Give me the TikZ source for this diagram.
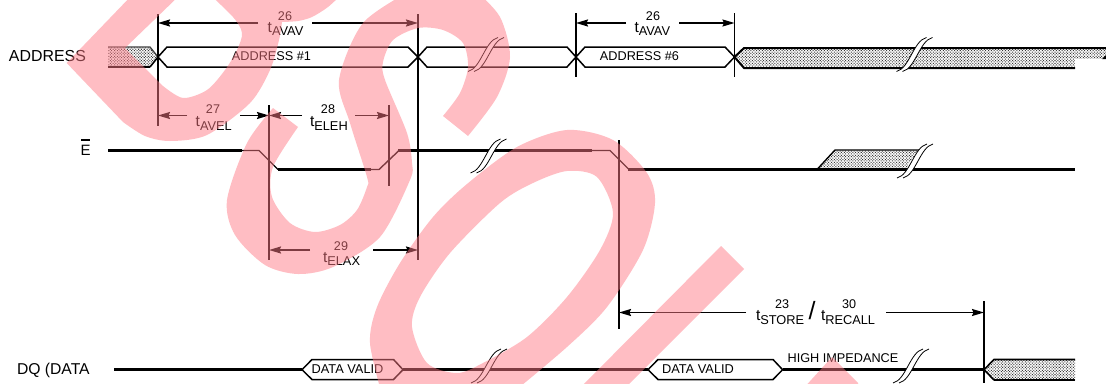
\documentclass[tikz,border=0pt]{standalone}
\usepackage{fontspec}
\setmainfont{Liberation Sans}
\usetikzlibrary{arrows.meta,patterns.meta}
\definecolor{wmpink}{RGB}{255,122,133}
\newcommand{\fsz}[1]{\fontsize{#1}{#1}\selectfont}
\newcommand{\brk}[3]{% name, center x, center y
  \coordinate (#1) at (#2,#3);
  \fill[white] ([shift={(-18,17)}]#1) .. controls ([shift={(-5,14)}]#1) and ([shift={(-1,-14)}]#1) .. ([shift={(12,-17)}]#1)
     -- ([shift={(18,-17)}]#1) .. controls ([shift={(5,-14)}]#1) and ([shift={(1,14)}]#1) .. ([shift={(-12,17)}]#1) -- cycle;
  \draw[breakln] ([shift={(-18,17)}]#1) .. controls ([shift={(-5,14)}]#1) and ([shift={(-1,-14)}]#1) .. ([shift={(12,-17)}]#1);
  \draw[breakln] ([shift={(-12,17)}]#1) .. controls ([shift={(1,14)}]#1) and ([shift={(5,-14)}]#1) .. ([shift={(18,-17)}]#1);
}
\newcommand{\tsub}[1]{\fsz{15.5}t\raisebox{-3.6pt}{\fsz{12.8}#1}}
\tikzset{
  lab/.style={inner sep=0pt,outer sep=0pt,text=black},
  num/.style={lab,font=\fsz{12.6}},
  bus/.style={draw=black,line width=1.5pt,line join=miter},
  thickln/.style={line width=3pt},
  thinln/.style={line width=1.4pt},
  marker/.style={line width=1.5pt},
  dim/.style={line width=1.5pt,-{Stealth[length=12pt,width=7pt,inset=1.5pt]}},
  breakln/.style={line width=.8pt},
  stipple/.style={pattern={Dots[distance=2pt,radius=.72pt,angle=45]},pattern color=black!78},
  wm/.style={fill=wmpink,fill opacity=.49,even odd rule},
}
\begin{document}
\begin{tikzpicture}[x=1pt,y=-1pt]
\useasboundingbox (0,0) rectangle (1106,383);
\fill[white] (0,0) rectangle (1106,383);
% markers
\coordinate (m1t) at (158,14);   \coordinate (m1b) at (158,126);
\coordinate (m2t) at (418,14);   \coordinate (m2b) at (418,260);
\coordinate (m3t) at (576,13);   \coordinate (m3b) at (576,77);
\coordinate (m4t) at (734.5,13); \coordinate (m4b) at (734.5,77);
\coordinate (m5t) at (269,105);  \coordinate (m5b) at (269,260);
\coordinate (m6t) at (389,105);  \coordinate (m6b) at (389,186);
\coordinate (m7t) at (619,140);  \coordinate (m7b) at (619,329);
\coordinate (m8t) at (984,301);  \coordinate (m8b) at (984,383);
% ADDRESS bus
\fill[stipple] (108,47) -- (150,47) -- (158,57) -- (150,67) -- (108,67) -- cycle;
\draw[line width=1.3pt,black!75] (108,47) -- (150,47) -- (158,57);
\draw[line width=2.6pt] (108,67) -- (150,67);
\draw[line width=1.6pt] (150,67) -- (158,57);
\node[lab,anchor=base west] (addr) at (9,61.5) {\fsz{15.9}ADDRESS};
\draw[bus] (158,57) -- (167,47) -- (408,47) -- (418,57) -- (408,67) -- (167,67) -- cycle;
\draw[bus] (418,57) -- (427,47) -- (567,47) -- (576,57) -- (567,67) -- (427,67) -- cycle;
\draw[bus] (576,57) -- (585,47) -- (725,47) -- (734.5,57) -- (725,67) -- (585,67) -- cycle;
\node[lab] (a1) at (271.5,55.7) {\fsz{12.7}ADDRESS \#1};
\node[lab] (a6) at (639.5,55.7) {\fsz{12.7}ADDRESS \#6};
\fill[stipple] (734.5,57) -- (744,48) -- (1106,48) -- (1106,68) -- (744,68) -- cycle;
\fill[white] (1075,59) rectangle (1106,72);
\draw[line width=2pt] (734.5,57) -- (744,48) -- (1106,48);
\draw[line width=2pt] (734.5,57) -- (744,68) -- (1075,68);
\fill[black] (1102,59) -- (1106,55) -- (1106,59) -- cycle;
\brk{b1}{486}{54.5}
\brk{b2}{914.5}{54.5}
% E line
\node[lab,anchor=base west] (e) at (80.5,155.5) {\fsz{15}E};
\draw[line width=1.5pt] (81,140) -- (90,140);
\fill[stipple] (817,169.5) -- (835,150) -- (918,150) -- (905,169.5) -- cycle;
\draw[line width=1.4pt] (817,169.5) -- (835,150) -- (920,150);
\draw[thickln] (108,150.5) -- (242,150.5);
\draw[thinln] (242,150.5) -- (259,150.5) -- (278,169.5);
\draw[thickln] (278,169.5) -- (371,169.5);
\draw[thinln] (371,169.5) -- (379,169.5) -- (399,150.5);
\draw[thickln] (398,150.5) -- (592,150.5);
\draw[thinln] (592,150.5) -- (610,150.5) -- (629,169.5);
\draw[thickln] (628,169.5) -- (1075,169.5);
\brk{b3}{488.5}{156}
\brk{b4}{915}{161}
% DQ line
\node[lab,anchor=base west] (dq) at (17,374.5) {\fsz{15.7}DQ (DATA};
\draw[thickln] (114,369.7) -- (302,369.7);
\draw[bus] (302,369.7) -- (312,359.5) -- (393.5,359.5) -- (403,369.7) -- (393.5,379.5) -- (312,379.5) -- cycle;
\node[lab] (dv1) at (347.5,369.3) {\fsz{12.8}DATA VALID};
\draw[thickln] (403,369.7) -- (648,369.7);
\draw[bus] (648,369.7) -- (658,359.5) -- (773,359.5) -- (782.6,369.7) -- (773,379.5) -- (658,379.5) -- cycle;
\node[lab] (dv2) at (698,369.3) {\fsz{12.8}DATA VALID};
\draw[thickln] (782.6,369.7) -- (984,369.7);
\fill[stipple] (984,369.7) -- (994,359.5) -- (1075,359.5) -- (1075,380) -- (994,380) -- cycle;
\draw[line width=1.6pt] (1075,359.5) -- (994,359.5) -- (984,369.7) -- (994,380);
\draw[line width=2.2pt] (994,380) -- (1075,380);
\node[lab] (hi) at (843,358) {\fsz{12.7}HIGH IMPEDANCE};
\brk{b5}{489}{366}
\brk{b6}{911}{366}
% marker lines
\foreach \m in {1,...,8}{\draw[marker] (m\m t) -- (m\m b);}
% time labels
\node[lab,anchor=base west] (ta) at (267.7,32) {\tsub{AVAV}};
\node[num] (na) at (285,15.7) {26};
\node[lab,anchor=base west] (tb) at (634.5,32) {\tsub{AVAV}};
\node[num] (nb) at (653,15.7) {26};
\node[lab,anchor=base west] (tc) at (195.7,126.5) {\tsub{AVEL}};
\node[num] (nc) at (213,109) {27};
\node[lab,anchor=base west] (td) at (310,126.5) {\tsub{ELEH}};
\node[num] (nd) at (328,109) {28};
\node[lab,anchor=base west] (te) at (323,262) {\tsub{ELAX}};
\node[num] (ne) at (341,245.7) {29};
\node[lab,anchor=base west] (tf) at (756,320.5) {\tsub{STORE}};
\node[num] (nf) at (782,304) {23};
\node[lab] (sl) at (812,311) {\fsz{25}/};
\node[lab,anchor=base west] (tg) at (821,320.5) {\tsub{RECALL}};
\node[num] (ng) at (849,304) {30};
% dimension arrows
\coordinate (d1a) at (258,23); \coordinate (d1b) at (312,23);
\coordinate (d2a) at (626,23); \coordinate (d2b) at (679,23);
\coordinate (d3a) at (187,115.5); \coordinate (d3b) at (240,115.5);
\coordinate (d4a) at (302,115.5); \coordinate (d4b) at (355,115.5);
\coordinate (d5a) at (310,250); \coordinate (d5b) at (373,250);
\coordinate (d6a) at (746,312.5); \coordinate (d6b) at (886,312.5);
\draw[dim] (d1a) -- (d1a -| m1t); \draw[dim] (d1b) -- (d1b -| m2t);
\draw[dim] (d2a) -- (d2a -| m3t); \draw[dim] (d2b) -- (d2b -| m4t);
\draw[dim] (d3a) -- (d3a -| m1t); \draw[dim] (d3b) -- (d3b -| m5t);
\draw[dim] (d4a) -- (d4a -| m5t); \draw[dim] (d4b) -- (d4b -| m6t);
\draw[dim] (d5a) -- (d5a -| m5t); \draw[dim] (d5b) -- (d5b -| m2t);
\draw[dim] (d6a) -- (d6a -| m7t); \draw[dim] (d6b) -- (d6b -| m8t);
% watermark
\begin{scope}
\clip (0,0) rectangle (1106,383);
\fill[wm] (135,-8) -- (66.7,63) -- (123,122)
  -- plot[smooth] coordinates {(123,122) (145,136) (170,141) (207,135) (250,103) (270,70) (279,40) (282,22)}
  -- plot[smooth] coordinates {(282,22) (298,21) (312,17) (328,7) (342,-6)}
  -- (342,-12) -- (135,-12) -- cycle
  (182,-7) -- (125,48) -- (163,86)
  -- plot[smooth] coordinates {(163,86) (183,98) (207,90) (225,70) (237,50) (242,33) (233,17) (205,-10)}
  -- (182,-10) -- cycle;
\fill[wm] (273,108) -- plot[smooth] coordinates {(273,108) (247,143) (227,200) (235,235) (265,265) (298,274) (333,267) (380,237) (410,180) (412,163) (407,133) (385,80) (383,62) (393,40) (418,28) (443,30) (463,43) (468,67) (460,93) (443,116)}
  -- (468,136) -- plot[smooth] coordinates {(468,136) (497,97) (510,57) (500,17) (475,-10)}
  -- (412,-10) -- plot[smooth] coordinates {(412,-10) (363,23) (339,80) (350,123) (367,177) (367,187) (357,210) (340,225) (315,232) (290,223) (272,197) (273,167) (298,127)} -- cycle;
\fill[wm] plot[smooth] coordinates {(382,395) (370,343) (377,307) (400,263) (433,217) (467,184) (517,147) (567,130) (613,140) (647,173) (655,203) (643,250) (607,307) (567,347) (510,395)} -- cycle
  plot[smooth cycle] coordinates {(567,171) (597,177) (613,213) (600,250) (567,297) (527,337) (483,363) (457,373) (427,363) (412,327) (420,297) (450,253) (500,203) (533,183)};
\fill[wm] (721,246) -- (744,269) -- (620,393) -- (575,393) -- cycle;
\fill[wm] (832,357) -- (858,383) -- (860,390) -- (802,390) -- cycle;
\end{scope}
\end{tikzpicture}
\end{document}
